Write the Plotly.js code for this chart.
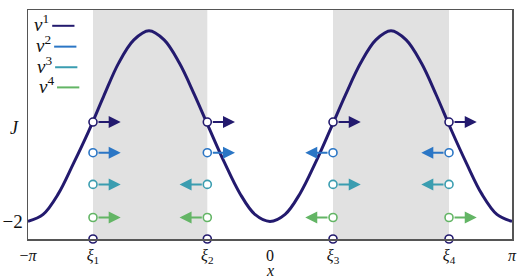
<!DOCTYPE html>
<html>
<head>
<meta charset="utf-8">
<script src="https://cdn.plot.ly/plotly-3.0.1.min.js"></script>
<style>html,body{margin:0;padding:0;background:#fff;}#chart{width:520px;height:278px;}</style>
</head>
<body>
<div id="chart"></div>
<script>
// ---- data ----
const curveX = [-3.1416, -2.9452, -2.7489, -2.5525, -2.3562, -2.1598, -1.9635, -1.7671, -1.5708,
                -1.3744, -1.1781, -0.9817, -0.7854, -0.5890, -0.3927, -0.1963, 0,
                0.1963, 0.3927, 0.5890, 0.7854, 0.9817, 1.1781, 1.3744, 1.5708,
                1.7671, 1.9635, 2.1598, 2.3562, 2.5525, 2.7489, 2.9452, 3.1416];
const curveJ = [-2, -1.80, -1.22, -0.36, 0.55, 1.55, 2.50, 3.15, 3.41,
                3.15, 2.50, 1.60, 0.62, -0.34, -1.20, -1.80, -2,
                -1.80, -1.20, -0.34, 0.62, 1.60, 2.50, 3.15, 3.41,
                3.15, 2.50, 1.58, 0.58, -0.36, -1.22, -1.80, -2];
const xi = [-2.298, -0.814, 0.818, 2.324];
const xiLabels = ['<i>ξ</i><sub>1</sub>', '<i>ξ</i><sub>2</sub>', '<i>ξ</i><sub>3</sub>', '<i>ξ</i><sub>4</sub>'];
const rowNames = ['1', '2', '3', '4'];
const rowJ = [0.82, -0.05, -0.95, -1.89];
const rowDirs = [
  [1, 1, 1, 1],
  [1, 1, -1, -1],
  [1, -1, 1, -1],
  [1, -1, -1, 1]
];
const baseJ = -2.5;

// ---- styles ----
const colors = ['#231a6e', '#2b76c5', '#3a9db0', '#63b565'];
const arrowLen = 0.36;
const font = "Liberation Serif";

const traces = [];
traces.push({x: curveX, y: curveJ, mode: 'lines', line: {color: colors[0], width: 3, shape: 'spline', smoothing: 1}, hoverinfo: 'skip'});

const annotations = [];
rowJ.forEach((yv, r) => {
  xi.forEach((xv, i) => {
    annotations.push({
      x: xv + rowDirs[r][i] * arrowLen, y: yv, ax: xv, ay: yv,
      xref: 'x', yref: 'y', axref: 'x', ayref: 'y',
      showarrow: true, arrowhead: 2, arrowsize: 1.2, arrowwidth: 2,
      arrowcolor: colors[r], startstandoff: 4, text: ''
    });
  });
  traces.push({
    x: xi, y: xi.map(() => yv), mode: 'markers', cliponaxis: false,
    marker: {symbol: 'circle', size: 8, color: '#ffffff', line: {color: colors[r], width: 1.6}},
    hoverinfo: 'skip'
  });
});
traces.push({
  x: xi, y: xi.map(() => baseJ), mode: 'markers', cliponaxis: false,
  marker: {symbol: 'circle', size: 8, color: '#ffffff', line: {color: colors[0], width: 1.6}},
  hoverinfo: 'skip'
});

const shapes = [
  {type: 'rect', xref: 'x', yref: 'paper', x0: xi[0], x1: xi[1], y0: 0, y1: 1, fillcolor: '#e1e1e1', line: {width: 0}, layer: 'below'},
  {type: 'rect', xref: 'x', yref: 'paper', x0: xi[2], x1: xi[3], y0: 0, y1: 1, fillcolor: '#e1e1e1', line: {width: 0}, layer: 'below'}
];

// legend (text left, line right)
const legX0 = [0.050, 0.054, 0.056, 0.060];
const legY = [0.931, 0.840, 0.750, 0.662];
rowNames.forEach((n, r) => {
  shapes.push({type: 'line', xref: 'paper', yref: 'paper', x0: legX0[r], x1: legX0[r] + 0.046, y0: legY[r], y1: legY[r],
               line: {color: colors[r], width: 2}});
  annotations.push({xref: 'paper', yref: 'paper', x: legX0[r] - 0.002, y: legY[r] + 0.012, xanchor: 'right', yanchor: 'middle',
                    showarrow: false, text: '<i>v</i><sup>' + n + '</sup>', font: {family: font, size: 19, color: '#111'}});
});
// y title J (horizontal)
annotations.push({xref: 'paper', yref: 'paper', x: -0.015, y: 0.485, xanchor: 'right', yanchor: 'middle', showarrow: false,
                  text: '<i>J</i>', font: {family: font, size: 18, color: '#111'}});
// x title
annotations.push({xref: 'paper', yref: 'paper', x: 0.5, y: -0.137, xanchor: 'center', yanchor: 'middle', showarrow: false,
                  borderpad: 0, text: '<i>x</i>', font: {family: font, size: 16, color: '#111'}});

const layout = {
  width: 520, height: 278,
  margin: {l: 28, r: 8, t: 10, b: 39},
  paper_bgcolor: '#ffffff', plot_bgcolor: '#ffffff',
  showlegend: false,
  font: {family: font, size: 16, color: '#111'},
  xaxis: {
    range: [-Math.PI, Math.PI], showgrid: false, zeroline: false,
    showline: true, linecolor: '#555', linewidth: 1.5, mirror: true, ticks: '',
    tickvals: [-Math.PI, xi[0], xi[1], 0, xi[2], xi[3], Math.PI],
    ticktext: ['−<i>π</i>', xiLabels[0], xiLabels[1], '0', xiLabels[2], xiLabels[3], '<i>π</i>'],
    tickfont: {family: font, size: 16, color: '#111'},
    ticklabelstandoff: 1
  },
  yaxis: {
    range: [-2.5, 4], showgrid: false, zeroline: false,
    showline: true, linecolor: '#555', linewidth: 1.5, mirror: true, ticks: '',
    tickvals: [-2, 4], ticktext: ['−2', '4'],
    tickfont: {family: font, size: 19, color: '#111'}
  },
  shapes: shapes,
  annotations: annotations
};

Plotly.newPlot('chart', traces, layout, {staticPlot: true, displayModeBar: false});
</script>
</body>
</html>
